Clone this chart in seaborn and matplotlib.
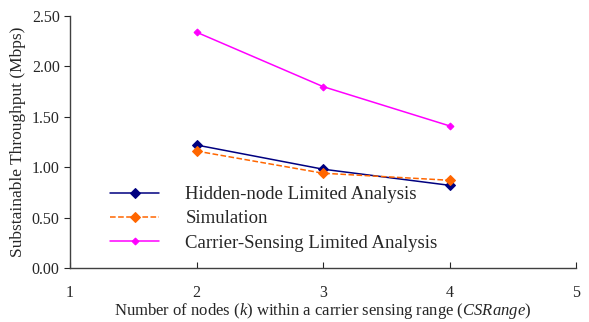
import pandas as pd
import seaborn as sns
import matplotlib.pyplot as plt

# --- data ---
nodes = [2, 3, 4]
hidden_node = [1.22, 0.98, 0.82]
simulation = [1.16, 0.94, 0.87]
carrier_sensing = [2.34, 1.80, 1.41]

series_names = ['Hidden-node Limited Analysis', 'Simulation', 'Carrier-Sensing Limited Analysis']
y_ticks = [0.0, 0.5, 1.0, 1.5, 2.0, 2.5]
x_ticks = [1, 2, 3, 4, 5]

df = pd.DataFrame({
    'k': nodes * 3,
    'throughput': hidden_node + simulation + carrier_sensing,
    'series': [series_names[0]] * 3 + [series_names[1]] * 3 + [series_names[2]] * 3,
})

sns.set_style('white')
plt.rcParams['font.family'] = ['Liberation Serif', 'DejaVu Serif']
plt.rcParams['mathtext.fontset'] = 'custom'
plt.rcParams['mathtext.it'] = 'Liberation Serif:italic'
plt.rcParams['mathtext.rm'] = 'Liberation Serif'

fig = plt.figure(figsize=(5.89, 3.22), dpi=100)
ax = fig.add_axes([0.119, 0.168, 0.859, 0.782])

colors = {series_names[0]: '#000080', series_names[1]: '#FF6600', series_names[2]: '#FF00FF'}
styles = {series_names[0]: '-', series_names[1]: '--', series_names[2]: '-'}
msizes = {series_names[0]: 5, series_names[1]: 5, series_names[2]: 3.5}

for name in series_names:
    sub = df[df['series'] == name]
    sns.lineplot(data=sub, x='k', y='throughput', ax=ax, color=colors[name],
                 linestyle=styles[name], marker='D', markersize=msizes[name],
                 markeredgecolor=colors[name], linewidth=1.1, label=name)

ax.set_xlim(1, 5)
ax.set_ylim(0, 2.5)
ax.set_xticks(x_ticks)
ax.set_yticks(y_ticks)
ax.set_yticklabels([f'{v:.2f}' for v in y_ticks])
ax.tick_params(axis='x', direction='in', length=4, pad=12, labelsize=11.5)
ax.tick_params(axis='y', direction='out', length=4, labelsize=11.5, left=True)
ax.tick_params(axis='x', bottom=True)

for side in ['top', 'right']:
    ax.spines[side].set_visible(False)
for side in ['left', 'bottom']:
    ax.spines[side].set_color('#404040')
    ax.spines[side].set_linewidth(1.0)

ax.set_xlabel(r'Number of nodes ($k$) within a carrier sensing range ($CSRange$)', fontsize=12, labelpad=0)
ax.set_ylabel('Substainable Throughput (Mbps)', fontsize=12.5, labelpad=4)

ax.legend(loc='lower left', bbox_to_anchor=(0.065, 0.035), frameon=False, fontsize=13.5,
          handlelength=2.6, handletextpad=1.4, labelspacing=0.38, borderaxespad=0)

fig.savefig('out.png', dpi=100)
